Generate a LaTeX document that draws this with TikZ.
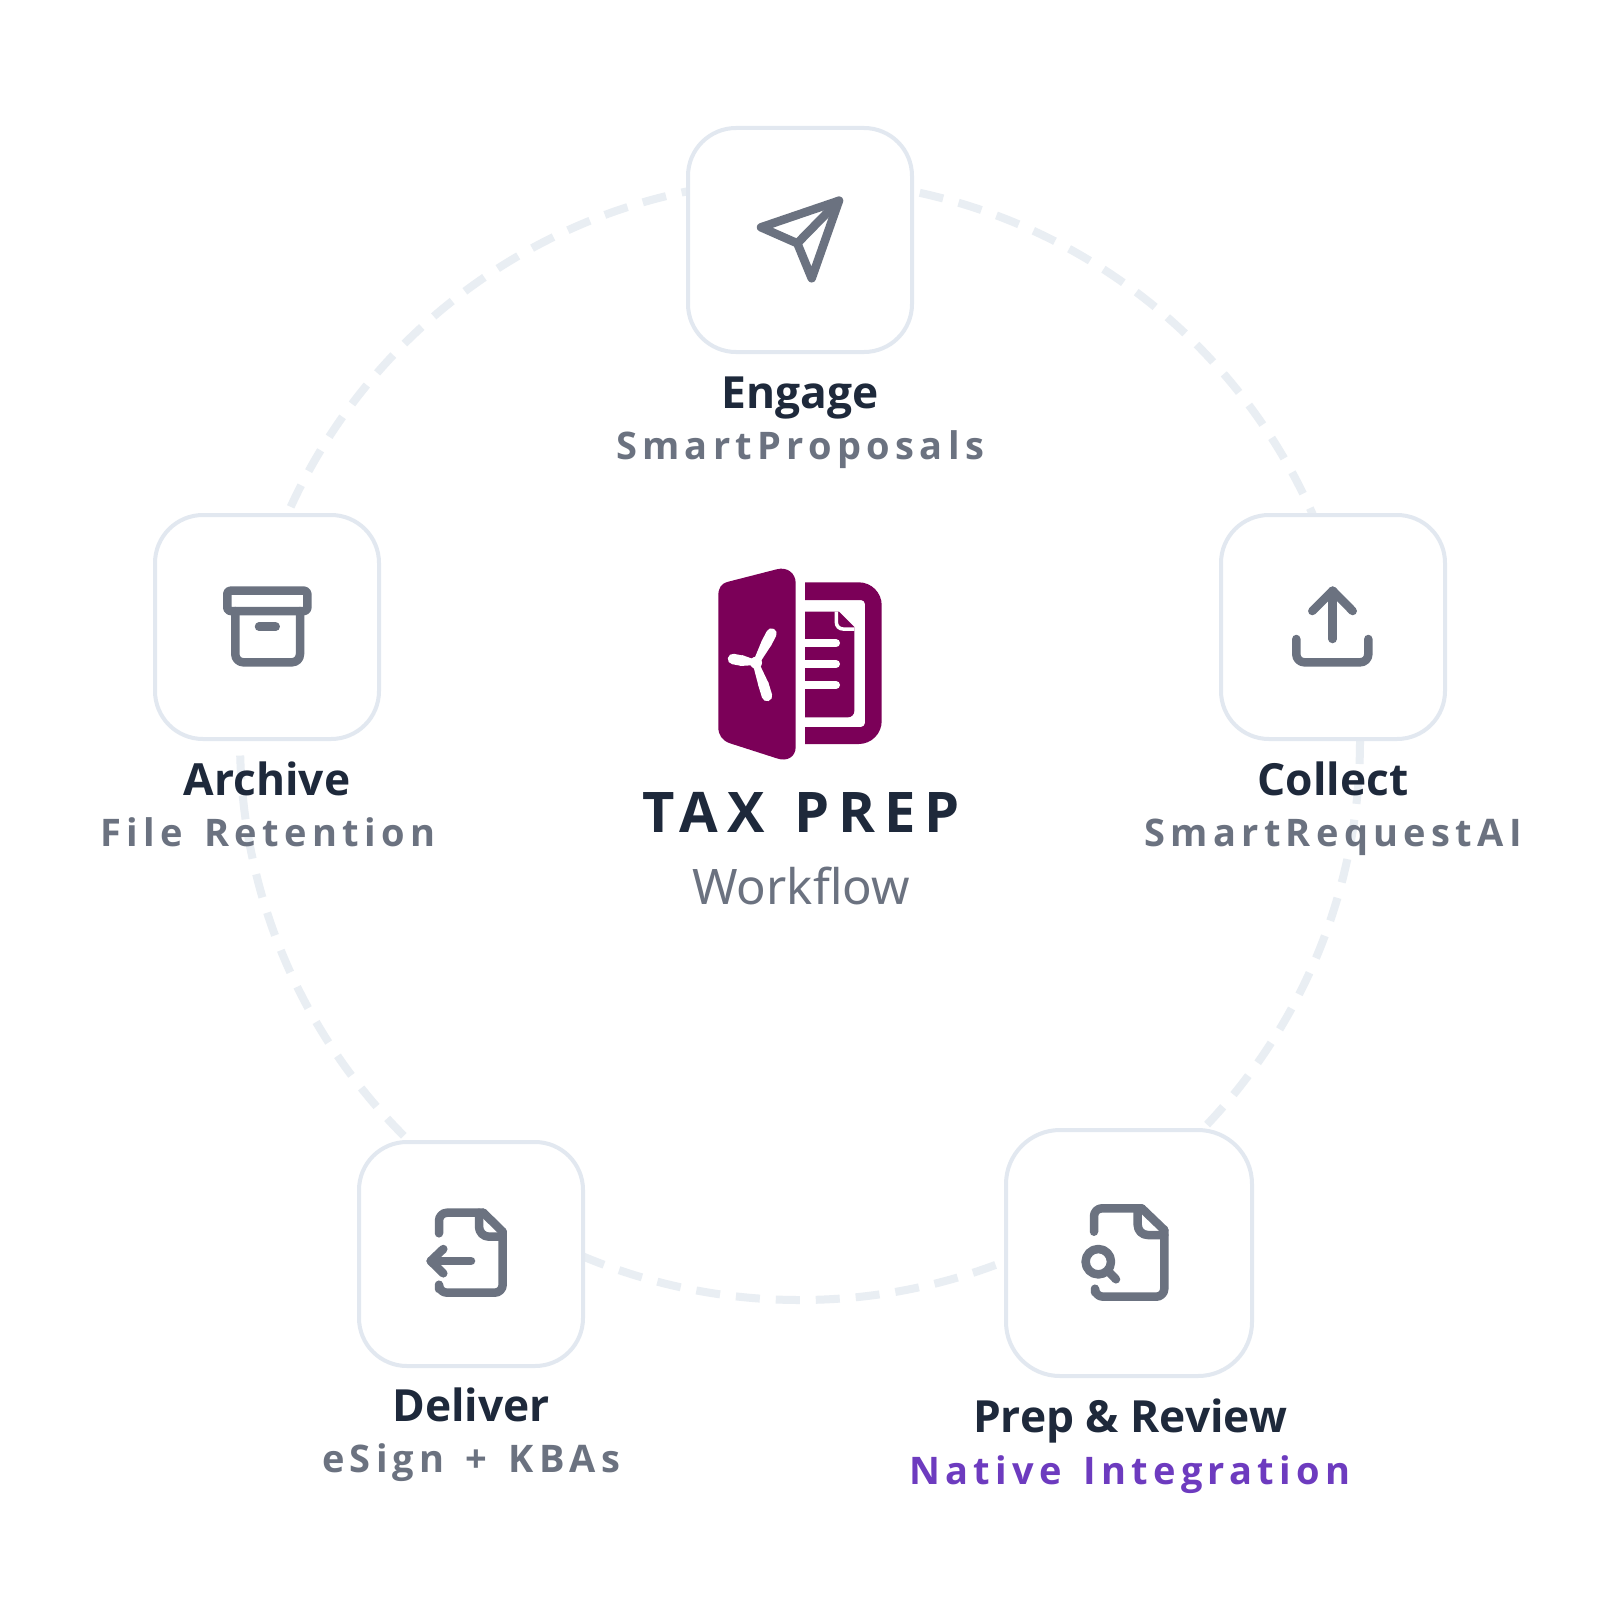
\documentclass[tikz,border=0pt]{standalone}
\usepackage{fontspec}
\setmainfont{Noto Sans}
\newfontfamily\headfont{Open Sans}
\newfontfamily\subfont[LetterSpace=14,WordSpace=1.4]{Open Sans}
\newfontfamily\titlefont[LetterSpace=15.5]{Open Sans}
\definecolor{ink}{HTML}{1E293B}
\definecolor{slate}{HTML}{6B7280}
\definecolor{violet2}{HTML}{6D3BBF}
\definecolor{plum}{HTML}{7B0058}
\definecolor{cardline}{HTML}{E2E8F0}
\definecolor{dashline}{HTML}{E9EEF3}
\tikzset{
  cardbox/.style={draw=cardline,fill=white,line width=4pt,rounded corners=48pt,minimum size=224pt,inner sep=0pt},
  bigcardbox/.style={cardbox,rounded corners=54pt,minimum size=246pt},
  softshade/.style={fill=black,fill opacity=0.0018,draw=none},
  icon/.style={draw=slate,line width=8.5pt,line cap=round,line join=round},
  headtext/.style={anchor=base,inner sep=0pt,text=ink,font=\fontsize{44.3}{50}\headfont\bfseries},
  subtext/.style={anchor=base,inner sep=0pt,text=slate,font=\fontsize{38}{46}\subfont\bfseries},
  fanblade/.style={draw=white,line width=10.5pt,line cap=round},
}
\newcommand{\softcard}[3]{%
  \foreach \e in {2,4,...,20}{
    \fill[softshade,rounded corners=#3+\e*1pt] ({#1-#3*2.3-\e},{#2-#3*2.3-\e+8}) rectangle ({#1+#3*2.3+\e},{#2+#3*2.3+\e+8});
  }%
}
\begin{document}
\begin{tikzpicture}[x=1pt,y=-1pt]
\useasboundingbox (0,0) rectangle (1600,1600);
\fill[white] (0,0) rectangle (1600,1600);
% ring
\draw[dashline,line width=8pt,dash pattern=on 24pt off 16pt] (1360,740) arc[start angle=0,end angle=360,radius=560];
% shadows
\softcard{800}{240}{48}
\softcard{1333}{627}{48}
\softcard{267}{627}{48}
\softcard{471}{1254}{48}
\softcard{1129}{1253}{53}
% cards
\node[cardbox] (engage) at (800,240) {};
\node[cardbox] (collect) at (1333,627) {};
\node[cardbox] (archive) at (267,627) {};
\node[cardbox] (deliver) at (471,1254) {};
\node[bigcardbox] (prep) at (1129,1253) {};
% labels
\node[headtext] (engageT) at (800,408) {Engage};
\node[subtext] (engageS) at (800,459) {SmartProposals};
\node[headtext] (collectT) at (1333,795) {Collect};
\node[subtext] (collectS) at (1333,846) {SmartRequestAI};
\node[headtext] (archiveT) at (267,795) {Archive};
\node[subtext] (archiveS) at (268,846) {File Retention};
\node[headtext] (deliverT) at (471,1421) {Deliver};
\node[subtext] (deliverS) at (471,1472) {eSign + KBAs};
\node[headtext] (prepT) at (1130,1432) {Prep \& Review};
\node[subtext,text=violet2] (prepS) at (1130,1484) {Native Integration};
% centre text
\node[anchor=base,inner sep=0pt,text=ink,font=\fontsize{56}{64}\titlefont\bfseries] (title) at (801,832) {TAX\hspace{7pt} PREP};
\node[anchor=base,inner sep=0pt,text=slate,font=\fontsize{49}{56}\selectfont] (sub) at (801,904) {Workflow};
% send icon
\draw[icon] (839,200.7) -- (761,227.3) -- (797.3,243.3) -- (811.7,278.3) -- cycle;
\draw[icon] (797.3,243.3) -- (839,200.7);
% upload icon
\draw[icon] (1332.7,639) -- (1332.7,590.7);
\draw[icon] (1312.3,611) -- (1332.7,590.7) -- (1352.7,611);
\draw[icon,rounded corners=8pt] (1296.3,639) -- (1296.3,662.3) -- (1368.3,662.3) -- (1368.3,639);
% archive icon
\draw[icon,rounded corners=3pt] (227.3,590.7) rectangle (307.3,611);
\draw[icon,rounded corners=8pt] (235.3,611) -- (235.3,662.3) -- (300,662.3) -- (300,611);
\draw[icon] (259,626.7) -- (275.7,626.7);
% deliver icon
\draw[icon,rounded corners=8pt] (439,1233.3) -- (439,1212.7) -- (483.3,1212.7);
\draw[icon,rounded corners=8pt] (502.7,1231.7) -- (502.7,1292.7) -- (439,1292.7) -- (439,1289);
\draw[icon,rounded corners=10pt] (479,1212.7) -- (479,1236.7) -- (502.7,1236.7);
\draw[icon] (483.3,1212.7) -- (502.7,1231.7);
\draw[icon] (471,1261) -- (430.7,1261);
\draw[icon] (443.3,1249) -- (430.7,1261) -- (443.3,1273.3);
% prep icon
\draw[icon,rounded corners=8pt] (1094,1231.7) -- (1094,1208.3) -- (1141.7,1208.3);
\draw[icon] (1141.7,1208.3) -- (1164.3,1230);
\draw[icon,rounded corners=8pt] (1164.3,1230) -- (1164.3,1296.7) -- (1095,1296.7) -- (1095,1292.3);
\draw[icon,rounded corners=10pt] (1137.7,1208.3) -- (1137.7,1235) -- (1164.3,1235);
\draw[icon] (1098.3,1261.7) circle[radius=12.7];
\draw[icon] (1110,1273) -- (1116,1279.3);
% logo
\fill[plum] (718.3,596) .. controls (718.3,588) and (721,583.5) .. (728.3,581.7) -- (776.7,569.3) .. controls (787,566.5) and (795.7,573) .. (795.7,583.3) -- (795.7,746.7) .. controls (795.7,757) and (787,762) .. (776.7,758.3) -- (730,743.3) .. controls (722,740.5) and (718.3,735) .. (718.3,727) -- cycle;
\fill[plum] (805,582.3) -- (858.7,582.3) arc[start angle=-90,end angle=0,radius=23] -- (881.7,721) arc[start angle=0,end angle=90,radius=23] -- (805,744) -- (805,727) -- (861,727) arc[start angle=90,end angle=0,radius=4] -- (865,604) arc[start angle=0,end angle=-90,radius=4] -- (805,600) -- cycle;
\fill[plum] (805,611.7) -- (839,611.7) -- (854.3,627) -- (854.3,711) arc[start angle=0,end angle=90,radius=6.3] -- (805,717.3) -- cycle;
\draw[white,line width=3.5pt] (836.3,611.7) -- (836.3,622) .. controls (836.3,626) and (839,629) .. (843,629) -- (854.3,629);
\foreach \yy in {643.3,664,685}{
  \draw[white,line width=8pt,line cap=round] (801,\yy) -- (836,\yy);
}
% fan
\fill[white] (756,662.7) circle[radius=6];
\draw[fanblade] (771.5,633.5) -- (766.5,643);
\fill[white] (771.2,645.3) -- (761.8,640.7) -- (753,662) -- (759,664) -- cycle;
\draw[fanblade] (733,659) -- (741,660.5);
\fill[white] (740,666) -- (742,655) -- (756,660) -- (756,665) -- cycle;
\draw[fanblade] (767,696) -- (763.5,684.5);
\fill[white] (768.5,683) -- (758.5,686) -- (753,665) -- (759,663) -- cycle;
\end{tikzpicture}
\end{document}
